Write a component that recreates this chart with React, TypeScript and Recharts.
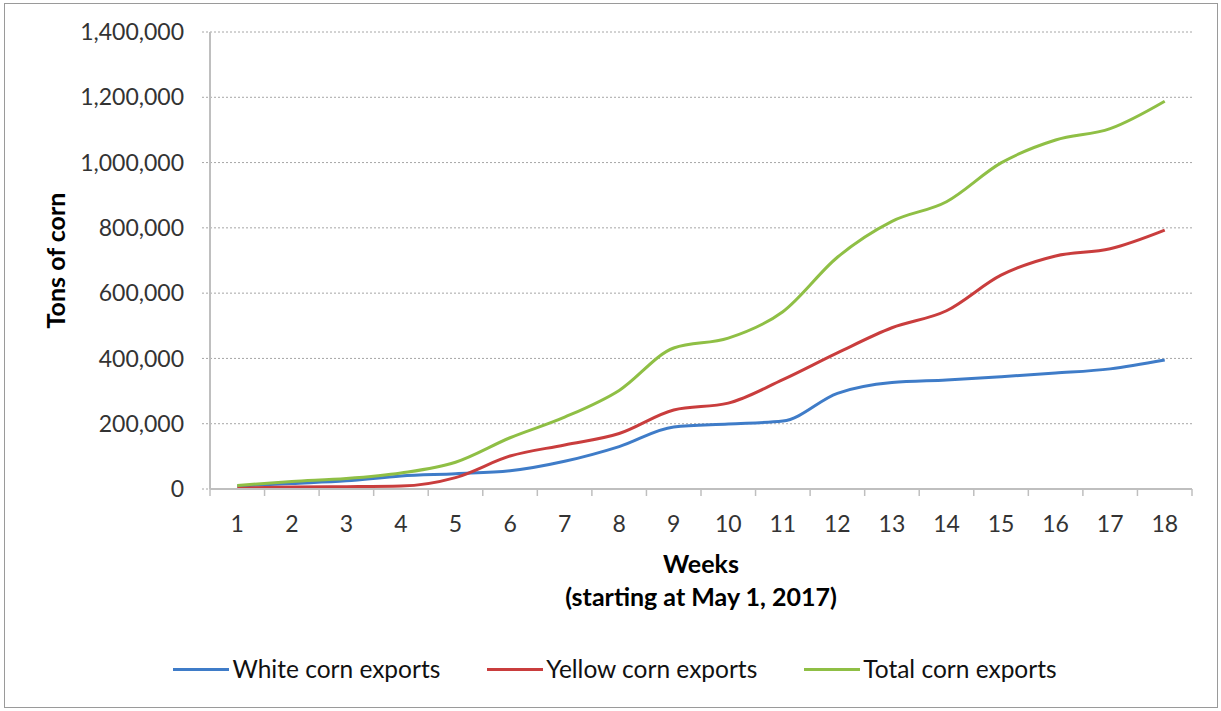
import { LineChart, Line, XAxis, YAxis, CartesianGrid } from 'recharts';

// weekly cumulative exports, tons
const weeks = ['1', '2', '3', '4', '5', '6', '7', '8', '9', '10', '11', '12', '13', '14', '15', '16', '17', '18'];
const whiteCorn = [9000, 17000, 25000, 40000, 47000, 56000, 85000, 130000, 190000, 199000, 208000, 293000, 326000, 334000, 344000, 355000, 368000, 395000];
const yellowCorn = [2000, 6000, 7000, 9000, 35000, 101000, 135000, 170000, 242000, 263000, 335000, 417000, 494000, 546000, 655000, 714000, 736000, 793000];
const totalCorn = [11000, 23000, 32000, 49000, 82000, 157000, 220000, 302000, 432000, 462000, 543000, 710000, 820000, 880000, 999000, 1069000, 1104000, 1188000];
const yTicks = [0, 200000, 400000, 600000, 800000, 1000000, 1200000, 1400000];

const series = [
    { key: 'white', name: 'White corn exports', color: '#3F7CC8', values: whiteCorn },
    { key: 'yellow', name: 'Yellow corn exports', color: '#C93D3D', values: yellowCorn },
    { key: 'total', name: 'Total corn exports', color: '#8FBF45', values: totalCorn },
];

const data = weeks.map((w, i) => ({
    week: w,
    white: whiteCorn[i],
    yellow: yellowCorn[i],
    total: totalCorn[i],
}));

const W = 1221;
const H = 711;
const MARGIN = { top: 32, right: 29, bottom: 0, left: 0 };
const Y_AXIS_W = 210;
const BAND = (W - MARGIN.left - MARGIN.right - Y_AXIS_W) / weeks.length;
const FONT = 'Lato, "Open Sans", sans-serif';
const AXIS_GRAY = '#bfbfbf';

const WeekTick = (props: any) => {
    const { x, y, payload, index } = props;
    const half = BAND / 2;
    return (
        <g>
            <line x1={x - half} x2={x - half} y1={y} y2={y + 7} stroke={AXIS_GRAY} strokeWidth={1.5} />
            {index === weeks.length - 1 && (
                <line x1={x + half} x2={x + half} y1={y} y2={y + 7} stroke={AXIS_GRAY} strokeWidth={1.5} />
            )}
            <text x={x} y={y + 27} dy="0.71em" textAnchor="middle" fontSize={23} fill="#333" fontFamily={FONT}>
                {payload.value}
            </text>
        </g>
    );
};

export default function App() {
    return (
        <div style={{ position: 'absolute', left: 0, top: 0, width: W, height: H, background: '#fff', fontFamily: FONT }}>
            <div
                style={{
                    position: 'absolute',
                    left: 4,
                    top: 3,
                    width: 1214,
                    height: 705,
                    boxSizing: 'border-box',
                    border: '1px solid #9a9a9a',
                }}
            />
            <LineChart width={W} height={H} data={data} margin={MARGIN}>
                <CartesianGrid vertical={false} stroke="#a6a6a6" strokeDasharray="2 2" />
                <XAxis
                    dataKey="week"
                    height={222}
                    padding={{ left: BAND / 2, right: BAND / 2 }}
                    stroke={AXIS_GRAY}
                    strokeWidth={2}
                    tickLine={false}
                    tickSize={0}
                    tickMargin={0}
                    interval={0}
                    tick={<WeekTick />}
                    label={{
                        content: (p: any) => {
                            const vb = p.viewBox || {};
                            const cx = (vb.x ?? Y_AXIS_W) + (vb.width ?? 0) / 2;
                            const top = vb.y ?? 489;
                            return (
                                <text textAnchor="middle" fontFamily={FONT} fontWeight={700} fontSize={25} fill="#000">
                                    <tspan x={cx} y={top + 84}>Weeks</tspan>
                                    <tspan x={cx} y={top + 117}>(starting at May 1, 2017)</tspan>
                                </text>
                            );
                        },
                    }}
                />
                <YAxis
                    width={Y_AXIS_W}
                    domain={[0, 1400000]}
                    ticks={yTicks}
                    stroke={AXIS_GRAY}
                    strokeWidth={2}
                    tickSize={8}
                    tickMargin={18}
                    tickLine={{ stroke: '#a6a6a6', strokeDasharray: '2 2', strokeWidth: 1 }}
                    tick={{ fill: '#333', fontSize: 23, fontFamily: FONT }}
                    tickFormatter={(v: number) => v.toLocaleString('en-US')}
                    label={{
                        content: (p: any) => {
                            const vb = p.viewBox || {};
                            const cy = (vb.y ?? 32) + (vb.height ?? 457) / 2;
                            return (
                                <text
                                    x={55}
                                    y={cy}
                                    transform={`rotate(-90, 55, ${cy})`}
                                    textAnchor="middle"
                                    dominantBaseline="central"
                                    fontFamily={FONT}
                                    fontWeight={700}
                                    fontSize={25}
                                    fill="#000"
                                >
                                    Tons of corn
                                </text>
                            );
                        },
                    }}
                />
                {series.map((s) => (
                    <Line
                        key={s.key}
                        type="monotone"
                        dataKey={s.key}
                        name={s.name}
                        stroke={s.color}
                        strokeWidth={3}
                        dot={false}
                        isAnimationActive={false}
                    />
                ))}
            </LineChart>
            <div
                style={{
                    position: 'absolute',
                    left: 0,
                    top: 654,
                    width: W,
                    display: 'flex',
                    justifyContent: 'center',
                    gap: 47,
                    paddingLeft: 9,
                    boxSizing: 'border-box',
                }}
            >
                {series.map((s) => (
                    <div key={s.key} style={{ display: 'flex', alignItems: 'center', gap: 3 }}>
                        <span style={{ display: 'inline-block', width: 56, height: 3, background: s.color }} />
                        <span style={{ fontSize: 24.5, color: '#111', lineHeight: '30px' }}>{s.name}</span>
                    </div>
                ))}
            </div>
        </div>
    );
}
